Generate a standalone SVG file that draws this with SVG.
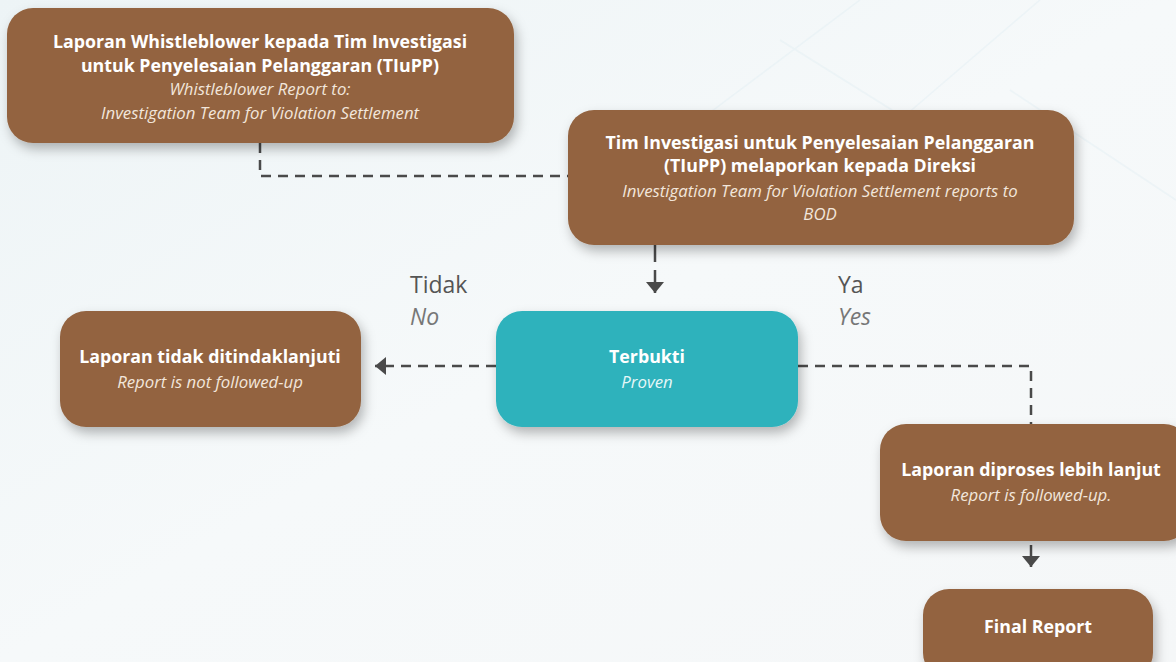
<svg xmlns="http://www.w3.org/2000/svg" width="1176" height="662" viewBox="0 0 1176 662">
<defs>
<linearGradient id="bg" x1="0" y1="0" x2="1" y2="1">
<stop offset="0" stop-color="#edf4f6"/>
<stop offset="0.5" stop-color="#f6f9fa"/>
<stop offset="1" stop-color="#f5f7f8"/>
</linearGradient>
<filter id="sh" x="-20%" y="-30%" width="140%" height="170%">
<feDropShadow dx="3" dy="6" stdDeviation="6" flood-color="#000" flood-opacity="0.28"/>
</filter>
<marker id="ah" viewBox="0 0 11 18" refX="11" refY="9" markerWidth="11" markerHeight="18" orient="auto" markerUnits="userSpaceOnUse">
<path d="M0,0 L11,9 L0,18 z" fill="#4a4a4a"/>
</marker>
<style>
.brown{fill:#936441;filter:url(#sh)}
.teal{fill:#2eb2bc;filter:url(#sh)}
.t{font-family:"Open Sans","Noto Sans",sans-serif;font-weight:700;font-size:17.8px;fill:#fff;text-anchor:middle}
.s{font-family:"Open Sans","Noto Sans",sans-serif;font-style:italic;font-weight:400;font-size:16.8px;fill:#f2e6db;text-anchor:middle}
.lab{font-family:"Open Sans","Noto Sans",sans-serif;font-size:23px;fill:#555}
.labi{font-family:"Open Sans","Noto Sans",sans-serif;font-size:23px;font-style:italic;fill:#777}
.c{fill:none;stroke:#4a4a4a;stroke-width:2.5;stroke-dasharray:10 7}
.cs{fill:none;stroke:#4a4a4a;stroke-width:2.5}
</style>
</defs>
<rect width="1176" height="662" fill="url(#bg)"/>
<g opacity="0.25" fill="none" stroke="#d3e6ee" stroke-width="1.5">
<path d="M700,120 L860,0 M900,120 L1040,0 M1010,90 L1176,200 M780,40 L940,140"/>
</g>
<g id="connectors">
<path class="c" d="M260,143 V176 H568"/>
<path class="cs" d="M655,245 V262"/>
<path class="cs" d="M655,270 V293" marker-end="url(#ah)"/>
<path class="c" d="M496,366 H375" marker-end="url(#ah)"/>
<path class="c" d="M798,366 H1031 V424"/>
<path class="cs" d="M1031,545 V567" marker-end="url(#ah)"/>
</g>
<g id="n1">
<rect class="brown" x="7" y="8" width="507" height="135" rx="26"/>
<text class="t" x="260" y="48">Laporan Whistleblower kepada Tim Investigasi</text>
<text class="t" x="260" y="72">untuk Penyelesaian Pelanggaran (TIuPP)</text>
<text class="s" x="260" y="95">Whistleblower Report to:</text>
<text class="s" x="260" y="119">Investigation Team for Violation Settlement</text>
</g>
<g id="n2">
<rect class="brown" x="568" y="110" width="506" height="135" rx="26"/>
<text class="t" x="820" y="149">Tim Investigasi untuk Penyelesaian Pelanggaran</text>
<text class="t" x="820" y="172">(TIuPP) melaporkan kepada Direksi</text>
<text class="s" x="820" y="197">Investigation Team for Violation Settlement reports to</text>
<text class="s" x="820" y="220">BOD</text>
</g>
<g id="n3">
<rect class="teal" x="496" y="311" width="302" height="116" rx="26"/>
<text class="t" x="647" y="363">Terbukti</text>
<text class="s" x="647" y="388" style="fill:#e6f7f8">Proven</text>
</g>
<g id="n4">
<rect class="brown" x="60" y="311" width="301" height="116" rx="26"/>
<text class="t" x="210" y="363">Laporan tidak ditindaklanjuti</text>
<text class="s" x="210" y="388">Report is not followed-up</text>
</g>
<g id="n5">
<rect class="brown" x="880" y="424" width="310" height="117" rx="26"/>
<text class="t" x="1031" y="476">Laporan diproses lebih lanjut</text>
<text class="s" x="1031" y="501">Report is followed-up.</text>
</g>
<g id="n6">
<rect class="brown" x="923" y="589" width="230" height="90" rx="26"/>
<text class="t" x="1038" y="633">Final Report</text>
</g>
<g id="labels">
<text class="lab" x="410" y="293">Tidak</text>
<text class="labi" x="410" y="325">No</text>
<text class="lab" x="838" y="293">Ya</text>
<text class="labi" x="838" y="325">Yes</text>
</g>
</svg>
